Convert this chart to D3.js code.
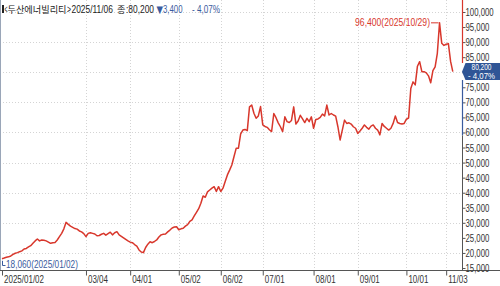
<!DOCTYPE html>
<html><head><meta charset="utf-8">
<script src="https://cdn.jsdelivr.net/npm/d3@7"></script>
<style>
body{margin:0;background:#fff;}
svg{display:block;}
text{font-family:"Liberation Sans",Arial,sans-serif;}
</style></head><body>
<svg id="c" width="500" height="286"></svg>
<script>
// ---- trading days (day-of-month per month, 2025) ----
const daysJan = [2,3,6,7,8,9,10,13,14,15,16,17,20,21,22,23,24,31];
const daysFeb = [3,4,5,6,7,10,11,12,13,14,17,18,19,20,21,24,25,26,27,28];
const daysMar = [4,5,6,7,10,11,12,13,14,17,18,19,20,21,24,25,26,27,28,31];
const daysApr = [1,2,3,4,7,8,9,10,11,14,15,16,17,18,21,22,23,24,25,28,29,30];
const daysMay = [2,7,8,9,12,13,14,15,16,19,20,21,22,23,26,27,28,29,30];
const daysJun = [2,4,5,9,10,11,12,13,16,17,18,19,20,23,24,25,26,27,30];
const daysJul = [1,2,3,4,7,8,9,10,11,14,15,16,17,18,21,22,23,24,25,28,29,30,31];
const daysAug = [1,4,5,6,7,8,11,12,13,14,18,19,20,21,22,25,26,27,28,29];
const daysSep = [1,2,3,4,5,8,9,10,11,12,15,16,17,18,19,22,23,24,25,26,29,30];
const daysOct = [1,2,10,13,14,15,16,17,20,21,22,23,24,27,28,29,30,31];
const daysNov = [3,4,5,6];

// ---- closing prices (KRW) ----
const closeJan = [18060,18300,18560,18700,19000,19500,19900,20100,20420,20700,21300,21500,22000,22400,23200,24000,24640,24000];
const closeFeb = [24300,24200,24000,23600,23200,23400,23500,24300,25400,26500,28000,30160,29500,28900,28500,28100,27900,27300,27000,26400];
const closeMar = [25400,26500,26700,26500,26300,25700,25800,26200,26500,25900,26400,26900,26000,26700,27060,26000,25500,25000,24500,24000];
const closeApr = [23600,23400,22800,22300,21000,20300,20100,21800,22900,23700,23400,23800,24300,25300,26000,26200,26300,27000,27600,28300,28600,28700];
const closeMay = [27700,28000,28200,28900,29400,30500,31000,32300,33500,34700,36500,38900,38500,40300,40900,41500,42000,40400,42000];
const closeJun = [40400,41500,43700,45900,47500,49200,52000,54800,54800,59500,60800,61000,60600,68500,69100,66400,64700,65500,68600];
const closeJul = [62500,62000,61700,60900,60300,66300,64900,63200,61900,60300,65200,63600,63300,64000,68500,62800,63800,65700,64500,63300,64700,63600,65200];
const closeAug = [61400,64300,64500,65000,66100,65500,69100,65800,66300,65800,65400,61900,57500,60800,64100,63000,63200,62800,61900,61400];
const closeSep = [59700,60500,61400,62500,61700,61100,62100,62500,61400,60800,59200,63000,62000,61400,60800,61400,63000,65500,63300,63000,62800,63000];
const closeOct = [64400,64800,74600,76800,75800,82000,83500,80200,80200,79800,78800,76500,80500,81800,86300,96400,89600,88900];
const closeNov = [89300,89500,83600,80200];

// ---- axis ticks ----
const xTickDates  = ["2025/01/02","2025/03/04","2025/04/01","2025/05/02","2025/06/02","2025/07/01","2025/08/01","2025/09/01","2025/10/01","2025/11/03"];
const xTickLabels = ["2025/01/02","03/04","04/01","05/02","06/02","07/01","08/01","09/01","10/01","11/03"];
const yTicks = [15000,20000,25000,30000,35000,40000,45000,50000,55000,60000,65000,70000,75000,80000,85000,90000,95000,100000];
const yGrid  = [20000,30000,40000,50000,60000,70000,80000,90000,100000];

// ---- annotations ----
const stockName = "두산에너빌리티";
const lastDate = "2025/11/06";
const lastClose = 80200;
const change = 3400;
const changePct = "4,07%";
const maxInfo = {value:96400, date:"2025/10/29"};
const minInfo = {value:18060, date:"2025/01/02"};

// build data table
const monthDays = [daysJan,daysFeb,daysMar,daysApr,daysMay,daysJun,daysJul,daysAug,daysSep,daysOct,daysNov];
const monthClose = [closeJan,closeFeb,closeMar,closeApr,closeMay,closeJun,closeJul,closeAug,closeSep,closeOct,closeNov];
const data = [];
monthDays.forEach((days,mi)=>{
  days.forEach((d,di)=>{
    const ds = "2025/" + String(mi+1).padStart(2,"0") + "/" + String(d).padStart(2,"0");
    data.push({date:ds, v:monthClose[mi][di]});
  });
});

const fmt = d3.format(",");
const RED = "#d8372c", BLUE = "#3a5b9e";
const KR = '"Noto Sans CJK KR","Noto Sans CJK SC",sans-serif';

// horizontally squeezed text (imitates the narrow bitmap font)
function squeeze(sel, f){
  sel.each(function(){
    const el = d3.select(this);
    const x0 = +el.attr("x") || 0, y0 = +el.attr("y") || 0;
    el.attr("x", 0).attr("y", 0).attr("transform", `translate(${x0},${y0}) scale(${f},1)`);
  });
}
function fitText(parent, x0, y0, w, str, opts={}){
  const t = parent.append("text").attr("x",0).attr("y",0).text(str);
  if(opts.family) t.style("font-family", opts.family);
  if(opts.size) t.style("font-size", opts.size);
  if(opts.fill) t.attr("fill", opts.fill);
  if(opts.anchor) t.attr("text-anchor", opts.anchor);
  const nat = t.node().getComputedTextLength();
  t.attr("transform", `translate(${x0},${y0}) scale(${(w/nat).toFixed(4)},1)`);
  return t;
}

const svg = d3.select("#c");
const x = d3.scalePoint().domain(data.map(d=>d.date)).range([2, 452.8]);
const y = d3.scaleLinear().domain([15000,100000]).range([268,12]);
const axisX = 462.5, baseY = 270.5;
const boxTop = 63, boxBot = 80;

// grid
svg.append("g").selectAll("line").data(yGrid).join("line")
  .attr("x1",0).attr("x2",axisX).attr("y1",d=>Math.round(y(d))+0.5).attr("y2",d=>Math.round(y(d))+0.5)
  .attr("stroke","#d4d4d4").attr("stroke-dasharray","1,2");
svg.append("g").selectAll("line").data(xTickDates.slice(1)).join("line")
  .attr("x1",d=>Math.round(x(d))+0.5).attr("x2",d=>Math.round(x(d))+0.5).attr("y1",0).attr("y2",baseY)
  .attr("stroke","#d4d4d4").attr("stroke-dasharray","1,2");

// left border
svg.append("line").attr("x1",0.5).attr("x2",0.5).attr("y1",0).attr("y2",baseY).attr("stroke","#9aa6b8");

// price line
svg.append("path").datum(data)
  .attr("d", d3.line().x(d=>x(d.date)).y(d=>y(d.v)))
  .attr("fill","none").attr("stroke",RED).attr("stroke-width",1.5).attr("stroke-linejoin","round");

// x axis
const gx = svg.append("g").attr("transform",`translate(0,${baseY})`)
  .call(d3.axisBottom(x).tickValues(xTickDates).tickSize(5).tickFormat((d,i)=>xTickLabels[i]));
gx.select(".domain").remove();
svg.append("line").attr("x1",0).attr("x2",500).attr("y1",baseY).attr("y2",baseY).attr("stroke","#555");
gx.selectAll(".tick line").attr("stroke","#555");
gx.selectAll(".tick text").attr("text-anchor","start").attr("x",1.5).attr("y",12).attr("dy",null)
  .attr("fill","#333").style("font-size","10px");
squeeze(gx.selectAll(".tick text"), 0.8);

// y axis (label under the current-price box is hidden, as in the reference)
const gy = svg.append("g").attr("transform",`translate(${axisX},0)`)
  .call(d3.axisRight(y).tickValues(yTicks).tickSize(3).tickFormat(fmt));
gy.select(".domain").remove();
gy.selectAll(".tick line").attr("stroke","#555");
gy.selectAll(".tick text").attr("x",3).attr("y",3.5).attr("dy",null).attr("fill","#333").style("font-size","10px");
gy.selectAll(".tick").filter(d=>y(d)>boxTop-4 && y(d)<boxBot+4).select("text").remove();
squeeze(gy.selectAll(".tick text"), 0.78);

// coloured axis line segments
svg.append("line").attr("x1",axisX).attr("x2",axisX).attr("y1",0).attr("y2",boxTop).attr("stroke",RED).attr("stroke-width",1.2);
svg.append("line").attr("x1",axisX).attr("x2",axisX).attr("y1",boxBot).attr("y2",y(59000)).attr("stroke",BLUE).attr("stroke-width",1.2);
svg.append("line").attr("x1",axisX).attr("x2",axisX).attr("y1",y(59000)).attr("y2",baseY).attr("stroke","#555");

// current price box
const yc = y(lastClose);
svg.append("path")
  .attr("d",`M${axisX-0.5},${yc} L${axisX+3},${boxTop} L500,${boxTop} L500,${boxBot} L${axisX+3},${boxBot} Z`)
  .attr("fill","#2f5596");
fitText(svg, 481.5, 70.3, 20, fmt(lastClose), {fill:"#fff", size:"8.5px", anchor:"middle"});
fitText(svg, 481.5, 78.6, 27, "- " + changePct, {fill:"#fff", size:"8.5px", anchor:"middle"});

// max annotation
const xm = x(maxInfo.date), ym = y(maxInfo.value);
svg.append("line").attr("x1",431).attr("x2",xm-1).attr("y1",ym).attr("y2",ym).attr("stroke",RED);
fitText(svg, 430, ym+3.5, 75, `${fmt(maxInfo.value)}(${maxInfo.date})`, {fill:RED, size:"10px", anchor:"end"});

// min annotation
const xn = x(minInfo.date), yn = y(minInfo.value);
svg.append("path").attr("d",`M${xn+0.5},${yn+2} L${xn+0.5},265.5 L${xn+3.5},265.5`).attr("fill","none").attr("stroke",BLUE);
fitText(svg, 6, 267.5, 72, `${fmt(minInfo.value)}(${minInfo.date})`, {fill:BLUE, size:"10px"});

// title
svg.append("rect").attr("x",2).attr("y",5).attr("width",2).attr("height",8).attr("fill","#222");
const title = svg.append("g").attr("fill","#222").style("font-size","10px");
fitText(title, 4.5, 13, 3, "<");
fitText(title, 7.5, 13, 59, stockName, {family:KR, size:"9px"});
fitText(title, 67, 13, 4, ">");
fitText(title, 71.5, 13, 41.5, lastDate);
fitText(title, 117, 13, 8.5, "종", {family:KR, size:"9px"});
fitText(title, 126, 13, 28, ":" + fmt(lastClose));
fitText(title, 156.5, 13, 6.5, "▼", {fill:BLUE, size:"10px", family:'"DejaVu Sans",sans-serif'});
fitText(title, 163, 13, 19.5, fmt(change), {fill:BLUE});
fitText(title, 192, 13, 28, "- " + changePct, {fill:BLUE});
</script>
</body></html>
